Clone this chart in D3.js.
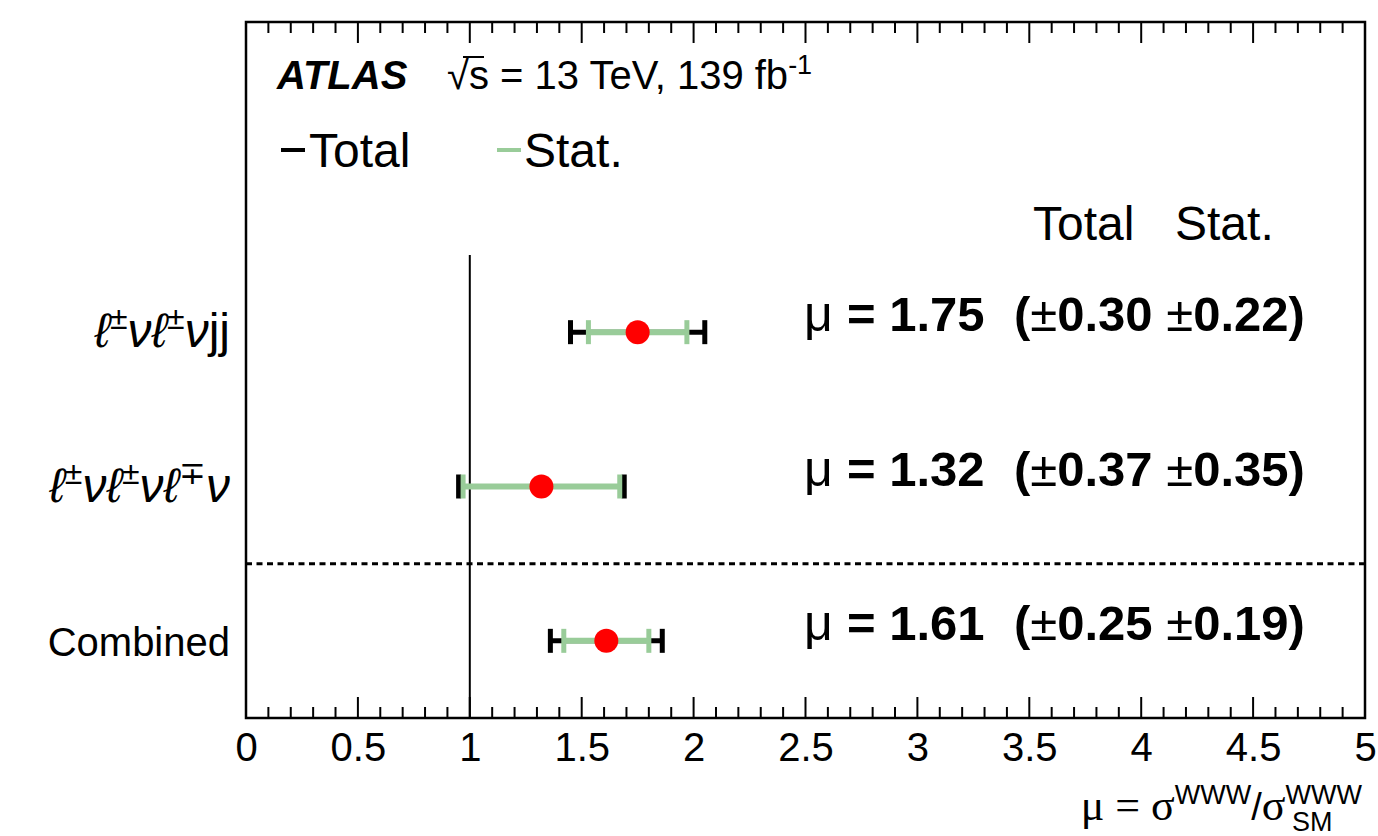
<!DOCTYPE html>
<html>
<head>
<meta charset="utf-8">
<script src="https://cdn.jsdelivr.net/npm/d3@7"></script>
<style>
  html, body { margin: 0; padding: 0; background: #fff; }
  svg { display: block; }
  text { font-family: "Liberation Sans", Arial, Helvetica, sans-serif; fill: #000; }
</style>
</head>
<body>
<svg id="chart" width="1378" height="836"></svg>
<script>
// Signal strength measurements per channel
const channels = ["lvlvjj", "lvlvlv", "Combined"];
const muValues = [1.75, 1.32, 1.61];
const totalErr = [0.30, 0.37, 0.25];
const statErr  = [0.22, 0.35, 0.19];
const xTicks   = [0, 0.5, 1, 1.5, 2, 2.5, 3, 3.5, 4, 4.5, 5];

const svg = d3.select("#chart");
const plotL = 246, plotR = 1365, plotT = 22, plotB = 718;

const x = d3.scaleLinear().domain([0, 5]).range([plotL, plotR]);
const y = d3.scaleLinear().domain([-0.5, 2.5]).range([255, plotB]);

const green = "#99cc99";

// Minor/major ticks pointing inward on bottom and top edges
const minor = d3.range(0, 51).map(k => k / 10);
const gTicks = svg.append("g");
function tickSet(yBase, dir) {
  gTicks.selectAll(null).data(minor).enter().append("line")
    .attr("x1", d => x(d)).attr("x2", d => x(d))
    .attr("y1", yBase)
    .attr("y2", d => yBase + dir * (Math.abs(d * 2 - Math.round(d * 2)) < 1e-6 ? 21 : 11))
    .attr("stroke", "#000").attr("stroke-width", 2);
}
tickSet(plotB, -1);
tickSet(plotT, 1);

const xAxis = d3.axisBottom(x).tickValues(xTicks).tickSize(0).tickPadding(0)
  .tickFormat(d => d3.format("")(d));
const ga = svg.append("g").attr("transform", `translate(0,${plotB})`).call(xAxis);
ga.select(".domain").remove();
ga.selectAll("text").attr("font-size", 40).attr("dy", null).attr("y", 43)
  .attr("font-family", "Liberation Sans, Arial, sans-serif").attr("fill", "#000");

// Frame
svg.append("rect").attr("x", plotL).attr("y", plotT)
  .attr("width", plotR - plotL).attr("height", plotB - plotT)
  .attr("fill", "none").attr("stroke", "#000").attr("stroke-width", 2.5);

// SM reference line at mu = 1
svg.append("line").attr("x1", x(1)).attr("x2", x(1))
  .attr("y1", y(-0.5)).attr("y2", plotB)
  .attr("stroke", "#000").attr("stroke-width", 2);

// Separator between channels and combination
svg.append("line").attr("x1", plotL).attr("x2", plotR)
  .attr("y1", y(1.5)).attr("y2", y(1.5))
  .attr("stroke", "#000").attr("stroke-width", 3)
  .attr("stroke-dasharray", "6,4.5");

// Error bars
const rows = channels.map((c, i) => ({ c, i, mu: muValues[i], tot: totalErr[i], st: statErr[i] }));
const g = svg.append("g");
rows.forEach(r => {
  const yy = y(r.i);
  g.append("line").attr("x1", x(r.mu - r.tot)).attr("x2", x(r.mu + r.tot))
    .attr("y1", yy).attr("y2", yy).attr("stroke", "#000").attr("stroke-width", 5);
  [r.mu - r.tot, r.mu + r.tot].forEach(v => {
    g.append("line").attr("x1", x(v)).attr("x2", x(v))
      .attr("y1", yy - 12).attr("y2", yy + 12).attr("stroke", "#000").attr("stroke-width", 5);
  });
  g.append("line").attr("x1", x(r.mu - r.st)).attr("x2", x(r.mu + r.st))
    .attr("y1", yy).attr("y2", yy).attr("stroke", green).attr("stroke-width", 6);
  [r.mu - r.st, r.mu + r.st].forEach(v => {
    g.append("line").attr("x1", x(v)).attr("x2", x(v))
      .attr("y1", yy - 12).attr("y2", yy + 12).attr("stroke", green).attr("stroke-width", 5);
  });
  g.append("circle").attr("cx", x(r.mu)).attr("cy", yy).attr("r", 12).attr("fill", "#ff0000");
});

// Row labels
const lab = svg.append("g");
function procLabel(yy, parts) {
  const t = lab.append("text").attr("x", 230).attr("y", yy + 15)
    .attr("text-anchor", "end").attr("font-size", 48)
    .attr("font-family", "DejaVu Sans, sans-serif");
  parts.forEach(p => {
    const ts = t.append("tspan").text(p.t);
    if (p.it) ts.attr("font-style", "italic");
    if (p.sup) ts.attr("font-size", 32).attr("baseline-shift", "super").attr("font-style", "normal");
  });
}
procLabel(y(0), [{t:"ℓ",it:1},{t:"±",sup:1},{t:"ν",it:1},{t:"ℓ",it:1},{t:"±",sup:1},{t:"ν",it:1},{t:"jj"}]);
procLabel(y(1), [{t:"ℓ",it:1},{t:"±",sup:1},{t:"ν",it:1},{t:"ℓ",it:1},{t:"±",sup:1},{t:"ν",it:1},{t:"ℓ",it:1},{t:"∓",sup:1},{t:"ν",it:1}]);
lab.append("text").attr("x", 230).attr("y", y(2) + 15).attr("text-anchor", "end")
  .attr("font-size", 40).text("Combined");

// Value annotations
const fmt = d3.format(".2f");
rows.forEach(r => {
  const yy = y(r.i) - 1;
  svg.append("text").attr("x", 804).attr("y", yy).attr("font-size", 50)
    .attr("font-family", "Liberation Serif, serif").text("μ");
  svg.append("text").attr("x", 847).attr("y", yy).attr("font-size", 49).attr("font-weight", "bold")
    .text("= " + fmt(r.mu));
  const t = svg.append("text").attr("x", 1014).attr("y", yy).attr("font-size", 49).attr("font-weight", "bold");
  t.append("tspan").text("(");
  t.append("tspan").attr("font-weight", "normal").text("±");
  t.append("tspan").text(fmt(r.tot) + " ");
  t.append("tspan").attr("font-weight", "normal").text("±");
  t.append("tspan").text(fmt(r.st) + ")");
});

// Column headers
svg.append("text").attr("x", 1033).attr("y", 240).attr("font-size", 48).text("Total");
svg.append("text").attr("x", 1175).attr("y", 240).attr("font-size", 48).text("Stat.");

// Experiment label
svg.append("text").attr("x", 277).attr("y", 89).attr("font-size", 40)
  .attr("font-weight", "bold").attr("font-style", "italic").text("ATLAS");
const info = svg.append("text").attr("x", 447).attr("y", 89).attr("font-size", 40);
info.append("tspan").text("√s = 13 TeV, 139 fb");
info.append("tspan").attr("font-size", 27).attr("dy", -15).text("-1");
// overbar of the square root
svg.append("line").attr("x1", 463).attr("x2", 484).attr("y1", 57).attr("y2", 57)
  .attr("stroke", "#000").attr("stroke-width", 2);

// Legend
svg.append("line").attr("x1", 281).attr("x2", 305).attr("y1", 150).attr("y2", 150)
  .attr("stroke", "#000").attr("stroke-width", 4);
svg.append("text").attr("x", 309).attr("y", 167).attr("font-size", 48).text("Total");
svg.append("line").attr("x1", 497).attr("x2", 521).attr("y1", 150).attr("y2", 150)
  .attr("stroke", green).attr("stroke-width", 4);
svg.append("text").attr("x", 524).attr("y", 167).attr("font-size", 48).text("Stat.");

// Axis title
const xt = svg.append("text").attr("x", 1362).attr("y", 820).attr("text-anchor", "end").attr("font-size", 38);
xt.append("tspan").attr("font-family", "Liberation Serif, serif").attr("font-size", 44).text("μ = σ");
xt.append("tspan").attr("font-size", 27).attr("dy", -16).text("WWW");
xt.append("tspan").attr("dy", 16).text("/");
xt.append("tspan").attr("font-family", "Liberation Serif, serif").attr("font-size", 44).text("σ");
xt.append("tspan").attr("font-size", 27).attr("dy", -16).text("WWW");
xt.append("tspan").attr("font-size", 27).attr("dx", -70).attr("dy", 27).text("SM");
</script>
</body>
</html>
